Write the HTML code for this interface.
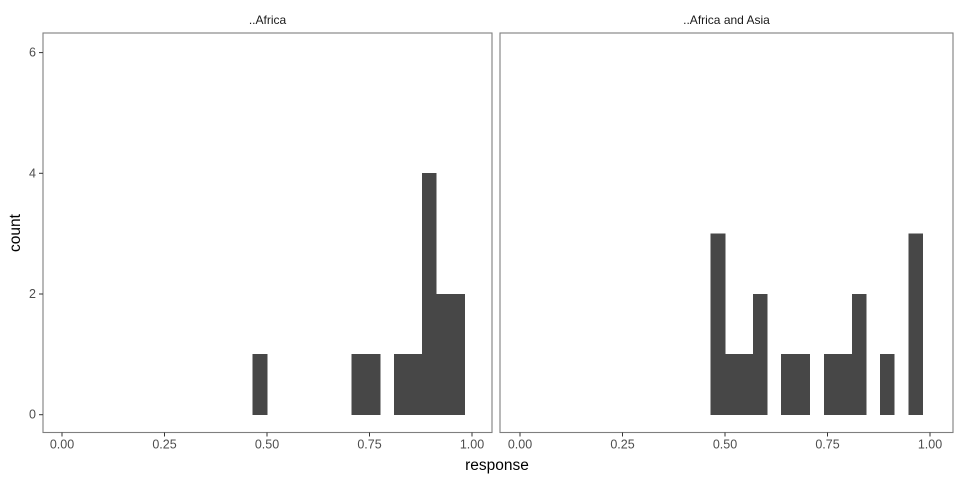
<!DOCTYPE html>
<html><head><meta charset="utf-8"><style>
html,body{margin:0;padding:0;background:#fff;}
svg text{font-family:"Liberation Sans",sans-serif;}
</style></head><body>
<svg id="chart" width="960" height="480" xmlns="http://www.w3.org/2000/svg">
<g id="g"></g>
</svg>
<script>
const binCenters = [0.483,0.517,0.552,0.586,0.621,0.655,0.690,0.724,0.759,0.793,0.827,0.862,0.896,0.931,0.965];
const africaCounts = [1,0,0,0,0,0,0,1,1,0,1,1,4,2,2];
const africaAsiaCounts = [3,1,1,2,0,1,1,0,1,1,2,0,1,0,3];
const panelTitles = ["..Africa","..Africa and Asia"];
const xTicks = [0,0.25,0.5,0.75,1];
const xTickLabels = ["0.00","0.25","0.50","0.75","1.00"];
const yTicks = [0,2,4,6];
const yTickLabels = ["0","2","4","6"];
const binWidth = 0.0344;

const NS="http://www.w3.org/2000/svg";
const g=document.getElementById('g');
function mk(tag,attrs,parent){const e=document.createElementNS(NS,tag);for(const k in attrs)e.setAttribute(k,attrs[k]);(parent||g).appendChild(e);return e;}
const panelTop=33,panelBottom=432.5;
const y=v=>414.7-v*60.35;
const panels=[{left:43,right:492,x0:62,series:africaCounts},{left:500,right:953,x0:520,series:africaAsiaCounts}];
panels.forEach((p,i)=>{
  const x=v=>p.x0+v*410;
  const pg=mk('g',{});
  
  
  const t=mk('text',{x:(p.left+p.right)/2,y:24,'text-anchor':'middle','font-size':'12',fill:'#1a1a1a'},pg);
  t.textContent=panelTitles[i];
  
  
  p.series.forEach((c,k)=>{
    if(c<=0)return;
    const r=mk('rect',{x:x(binCenters[k]-binWidth/2),y:y(c),width:binWidth*410,height:y(0)-y(c),fill:'#474747',stroke:'#474747','stroke-width':'0.5','shape-rendering':'crispEdges'},pg);
    
    
  });
  const b=mk('rect',{x:p.left,y:panelTop,width:p.right-p.left,height:panelBottom-panelTop,fill:'none',stroke:'#7f7f7f','stroke-width':'1.1'},pg);
  
  
  xTicks.forEach((v,j)=>{
    mk('line',{x1:x(v),x2:x(v),y1:panelBottom,y2:panelBottom+4,stroke:'#333','stroke-width':'1'},pg);
    const tl=mk('text',{x:x(v),y:panelBottom+16,'text-anchor':'middle','font-size':'12.5',fill:'#4d4d4d'},pg);
    tl.textContent=xTickLabels[j];
    
    
  });
});
yTicks.forEach((v,j)=>{
  mk('line',{x1:39,x2:43,y1:y(v),y2:y(v),stroke:'#333','stroke-width':'1'});
  const tl=mk('text',{x:36,y:y(v)+4,'text-anchor':'end','font-size':'12.5',fill:'#4d4d4d'});
  tl.textContent=yTickLabels[j];
  
  
});
const xt=mk('text',{x:497,y:470,'text-anchor':'middle','font-size':'15.5',fill:'#000'});
xt.textContent='response';


const yt=mk('text',{x:20,y:233,'text-anchor':'middle','font-size':'15.5',fill:'#000',transform:'rotate(-90 20 233)'});
yt.textContent='count';


</script>
</body></html>
